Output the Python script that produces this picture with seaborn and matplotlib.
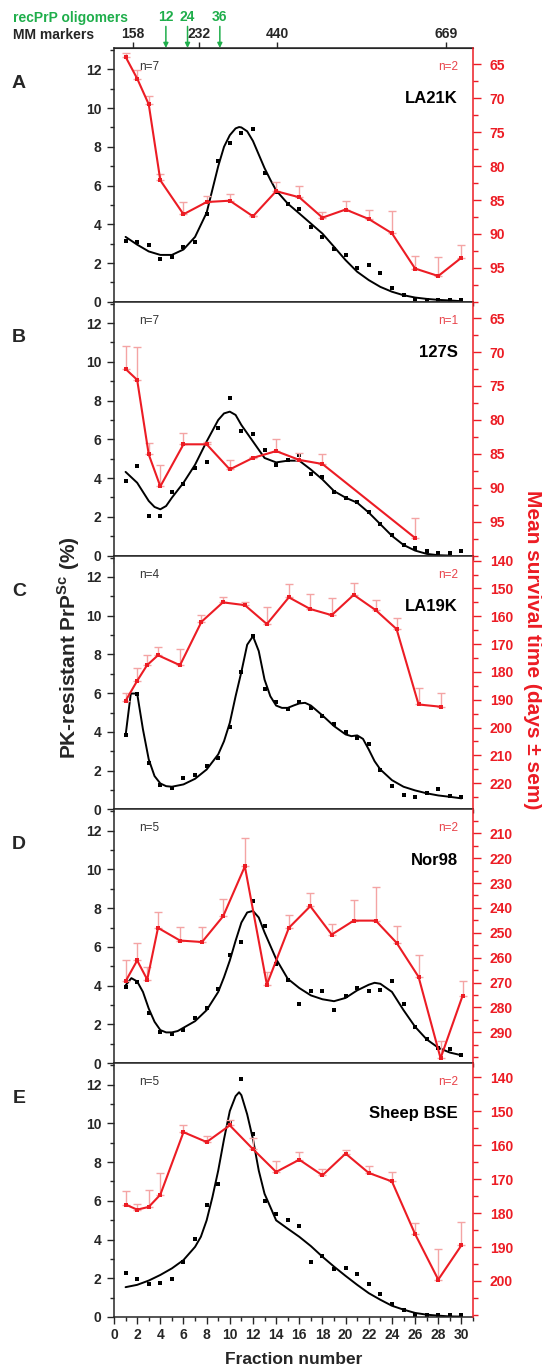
import numpy as np
import matplotlib
matplotlib.use("Agg")
import matplotlib.pyplot as plt
import matplotlib.transforms as mtransforms
from matplotlib.ticker import MultipleLocator
import seaborn as sns

# fractions collected from the gradient
fractions = list(range(1, 31))

# ---- A : LA21K ----
a_dots = [3.13, 3.09, 2.92, 2.23, 2.32, 2.84, 3.09, 4.52, 7.27, 8.18, 8.70, 8.92, 6.65, 5.67, 5.07,
          4.78, 3.87, 3.35, 2.72, 2.44, 1.75, 1.89, 1.50, 0.69, 0.34, 0.17, 0.09, 0.08, 0.09, 0.09]
a_fit_x = [1, 2, 3, 4, 5, 6, 7, 8, 8.5, 9, 9.5, 10, 10.5, 10.8, 11, 11.5, 12, 12.5, 13, 13.5, 14,
           15, 16, 17, 18, 19, 20, 21, 22, 23, 24, 25, 26, 27, 28, 29, 30]
a_fit_y = [3.35, 2.95, 2.6, 2.42, 2.42, 2.7, 3.35, 4.6, 5.8, 7.0, 8.0, 8.6, 8.95, 9.02, 9.0, 8.8, 8.3,
           7.6, 6.9, 6.3, 5.75, 5.07, 4.56, 4.04, 3.52, 2.84, 2.15, 1.55, 1.12, 0.77, 0.52, 0.34,
           0.22, 0.15, 0.10, 0.07, 0.03]
a_red_x = [1, 2, 3, 4, 6, 8, 10, 12, 14, 16, 18, 20, 22, 24, 26, 28, 30]
a_red_y = [63.9, 67.1, 70.9, 82.1, 87.1, 85.3, 85.1, 87.4, 83.7, 84.6, 87.6, 86.4, 87.8, 89.9,
           95.1, 96.2, 93.5]
a_red_err = [0.6, 1.2, 1.2, 1.0, 1.8, 0.9, 1.0, 0.0, 1.3, 1.7, 0.9, 1.2, 1.4, 3.3, 1.8, 2.8, 1.8]

# ---- B : 127S ----
b_dots = [3.84, 4.64, 2.05, 2.05, 3.29, 3.72, 4.52, 4.81, 6.57, 8.14, 6.45, 6.28, 5.43, 4.69, 4.95,
          5.17, 4.22, 4.06, 3.28, 2.99, 2.77, 2.27, 1.62, 1.06, 0.56, 0.39, 0.22, 0.15, 0.14, 0.26]
b_fit_x = [1, 2, 3, 3.5, 4, 4.5, 5, 6, 7, 8, 9, 9.5, 10, 10.5, 11, 12, 13, 14, 15, 16, 17, 18, 19,
           20, 21, 22, 23, 24, 25, 26, 27, 28, 29]
b_fit_y = [4.32, 3.76, 2.82, 2.51, 2.39, 2.56, 2.99, 3.76, 4.69, 5.89, 7.0, 7.34, 7.43, 7.26, 6.74,
           5.89, 5.04, 4.81, 4.9, 4.9, 4.44, 3.93, 3.33, 2.99, 2.73, 2.22, 1.62, 1.02, 0.55, 0.26,
           0.09, 0.02, 0.0]
b_red_x = [1, 2, 3, 4, 6, 8, 10, 12, 14, 16, 18, 26]
b_red_y = [72.5, 74.1, 85.1, 89.8, 83.6, 83.6, 87.3, 85.6, 84.6, 85.9, 86.5, 97.4]
b_red_err = [3.4, 4.9, 1.7, 3.2, 1.6, 0.3, 1.4, 0.2, 1.8, 1.0, 1.5, 3.0]

# ---- C : LA19K ----
c_dots = [3.82, 5.98, 2.41, 1.27, 1.13, 1.60, 1.80, 2.23, 2.66, 4.26, 7.08, 8.97, 6.24, 5.55, 5.16,
          5.52, 5.21, 4.81, 4.42, 4.00, 3.70, 3.35, 2.01, 1.20, 0.72, 0.65, 0.83, 1.03, 0.69, 0.65]
c_fit_x = [1, 1.45, 2, 2.5, 3, 3.5, 4, 4.5, 5, 6, 7, 8, 9, 9.5, 10, 10.5, 11, 11.5, 12, 12.5, 13,
           13.5, 14, 14.5, 15, 15.5, 16, 16.5, 17, 18, 19, 20, 20.5, 21, 21.5, 22, 22.5, 23, 24, 25,
           26, 27, 28, 29, 30]
c_fit_y = [3.82, 5.98, 5.98, 4.13, 2.58, 1.72, 1.34, 1.2, 1.17, 1.29, 1.58, 2.06, 2.84, 3.52, 4.47,
           5.84, 7.1, 8.5, 8.94, 8.17, 6.70, 5.84, 5.36, 5.24, 5.24, 5.36, 5.47, 5.5, 5.36, 4.85,
           4.30, 3.87, 3.78, 3.82, 3.64, 3.09, 2.49, 2.06, 1.51, 1.17, 0.98, 0.83, 0.72, 0.65, 0.57]
c_red_x = [1, 2, 2.85, 3.8, 5.7, 7.55, 9.4, 11.3, 13.2, 15.1, 16.95, 18.8, 20.7, 22.6, 24.4, 26.3,
           28.2]
c_red_y = [190.4, 183.2, 177.6, 174.0, 177.6, 162.0, 155.0, 156.0, 162.8, 153.2, 157.4, 159.6,
           152.3, 157.8, 164.6, 191.7, 192.5]
c_red_err = [2.7, 4.5, 3.8, 3.1, 5.8, 2.4, 2.1, 1.2, 6.3, 4.8, 5.4, 6.0, 4.3, 3.7, 3.9, 6.1, 5.1]

# ---- D : Nor98 ----
d_dots = [3.93, 4.19, 2.6, 1.62, 1.49, 1.71, 2.34, 2.85, 3.85, 5.56, 6.27, 8.38, 7.09, 5.13, 4.27,
          3.04, 3.71, 3.71, 2.77, 3.47, 3.88, 3.71, 3.79, 4.22, 3.08, 1.88, 1.25, 0.80, 0.74, 0.43]
d_fit_x = [1, 1.5, 2, 2.5, 3, 3.5, 4, 4.5, 5, 5.5, 6, 7, 8, 9, 9.5, 10, 10.5, 11, 11.5, 12, 12.5,
           13, 14, 15, 16, 17, 18, 19, 20, 21, 22, 22.5, 23, 24, 25, 26, 27, 28, 29, 30]
d_fit_y = [4.02, 4.39, 4.22, 3.68, 2.82, 2.14, 1.71, 1.59, 1.59, 1.66, 1.83, 2.17, 2.74, 3.68, 4.44,
           5.30, 6.32, 7.26, 7.78, 7.86, 7.52, 6.75, 5.38, 4.36, 3.88, 3.50, 3.30, 3.20, 3.37, 3.76,
           4.05, 4.15, 4.10, 3.68, 2.74, 1.88, 1.23, 0.80, 0.55, 0.41]
d_red_x = [1, 2, 2.87, 3.8, 5.7, 7.6, 9.43, 11.3, 13.2, 15.1, 16.95, 18.8, 20.7, 22.6, 24.4, 26.3,
           28.2, 30.1]
d_red_y = [269.5, 261.1, 268.8, 248.0, 253.1, 253.7, 243.3, 223.3, 270.8, 248.0, 239.3, 250.7,
           245.1, 245.1, 254.0, 267.7, 300.4, 275.3]
d_red_err = [8.4, 7.0, 5.1, 6.5, 5.5, 6.1, 6.9, 11.3, 5.1, 5.3, 5.2, 4.3, 8.3, 13.4, 6.7, 8.6, 7.1,
             6.0]

# ---- E : Sheep BSE ----
e_dots = [2.29, 1.97, 1.69, 1.78, 1.95, 2.85, 4.05, 5.76, 6.87, 10.0, 12.29, 9.47, 5.97, 5.30, 4.99,
          4.70, 2.85, 3.16, 2.46, 2.55, 2.22, 1.71, 1.20, 0.68, 0.34, 0.12, 0.09, 0.09, 0.09, 0.12]
e_fit_x = [1, 2, 3, 4, 5, 6, 7, 7.5, 8, 8.5, 9, 9.5, 10, 10.5, 10.8, 11, 11.5, 12, 12.5, 13, 13.5,
           14, 15, 16, 17, 18, 19, 20, 21, 22, 23, 24, 25, 26, 27, 28, 29, 30]
e_fit_y = [1.54, 1.66, 1.88, 2.17, 2.51, 2.94, 3.62, 4.14, 4.99, 6.19, 7.56, 9.18, 10.63, 11.40,
           11.6, 11.45, 10.46, 9.18, 7.56, 6.36, 5.68, 4.99, 4.56, 4.14, 3.66, 3.11, 2.60, 2.12,
           1.66, 1.23, 0.89, 0.58, 0.38, 0.21, 0.12, 0.07, 0.03, 0.02]
e_red_x = [1, 2, 3, 4, 6, 8, 10, 12, 14, 16, 18, 20, 22, 24, 26, 28, 30]
e_red_y = [177.5, 179.0, 178.2, 174.6, 156.2, 159.1, 154.2, 161.2, 167.9, 164.3, 168.9, 162.5,
           168.2, 170.7, 186.2, 199.6, 189.5]
e_red_err = [3.9, 1.7, 5.1, 6.4, 2.1, 1.8, 1.7, 3.3, 3.3, 2.4, 1.8, 1.0, 1.9, 2.7, 3.3, 9.1, 6.8]

letters = ["A", "B", "C", "D", "E"]
strains = ["LA21K", "127S", "LA19K", "Nor98", "Sheep BSE"]
n_pk = ["n=7", "n=7", "n=4", "n=5", "n=5"]
n_bio = ["n=2", "n=1", "n=2", "n=2", "n=2"]
surv_lims = [(100, 62.6), (100, 62.6), (229.4, 138.2), (302.4, 200.4), (210.6, 135.9)]
surv_ticks = [
    [65, 70, 75, 80, 85, 90, 95],
    [65, 70, 75, 80, 85, 90, 95],
    [140, 150, 160, 170, 180, 190, 200, 210, 220],
    [210, 220, 230, 240, 250, 260, 270, 280, 290],
    [140, 150, 160, 170, 180, 190, 200],
]
surv_minor = [2.5, 2.5, 5, 5, 5]

# molecular mass markers / oligomer sizes on top of panel A
mm_pos = [1.64, 7.33, 14.1, 28.7]
mm_labels = ["158", "232", "440", "669"]
olig_pos = [4.48, 6.35, 9.14]
olig_labels = ["12", "24", "36"]

panels = [
    (a_dots, a_fit_x, a_fit_y, a_red_x, a_red_y, a_red_err),
    (b_dots, b_fit_x, b_fit_y, b_red_x, b_red_y, b_red_err),
    (c_dots, c_fit_x, c_fit_y, c_red_x, c_red_y, c_red_err),
    (d_dots, d_fit_x, d_fit_y, d_red_x, d_red_y, d_red_err),
    (e_dots, e_fit_x, e_fit_y, e_red_x, e_red_y, e_red_err),
]

sns.set_style("ticks")
plt.rcParams["font.family"] = ["Liberation Sans", "DejaVu Sans"]
plt.rcParams["font.weight"] = "bold"
plt.rcParams["mathtext.fontset"] = "custom"
plt.rcParams["mathtext.rm"] = "Liberation Sans"
plt.rcParams["mathtext.bf"] = "Liberation Sans:bold"

RED = "#ec1c24"
PINK = "#f4a4a4"
GREEN = "#1fae4b"

W, H = 542, 1372
fig = plt.figure(figsize=(W / 100, H / 100), dpi=100)

left_px, right_px = 114, 473
top_px, bottom_px = 48, 1317
ph = (bottom_px - top_px) / 5

for i, (dots, fx, fy, rx, ry, rerr) in enumerate(panels):
    y0 = top_px + (i + 1) * ph
    ax = fig.add_axes([left_px / W, 1 - y0 / H, (right_px - left_px) / W, ph / H])

    sns.lineplot(x=fx, y=fy, ax=ax, color="black", linewidth=1.4, estimator=None, sort=False)
    sns.scatterplot(x=fractions, y=dots, ax=ax, color="black", marker="s", s=6, linewidth=0)

    ax.set_xlim(0, 31)
    ax.set_ylim(0, 13.1)
    ax.xaxis.set_major_locator(MultipleLocator(2))
    ax.xaxis.set_minor_locator(MultipleLocator(1))
    ax.yaxis.set_major_locator(MultipleLocator(2))
    ax.yaxis.set_minor_locator(MultipleLocator(1))
    ax.tick_params(which="major", direction="out", length=5, width=1, labelsize=10, pad=4)
    ax.tick_params(which="minor", direction="out", length=3, width=1)
    ax.tick_params(axis="x", labelbottom=(i == 4), pad=3)
    ax.set_xlabel("")
    ax.set_ylabel("")
    ax.spines["right"].set_visible(False)
    for s in ["left", "bottom", "top"]:
        ax.spines[s].set_linewidth(1.1)

    ax2 = ax.twinx()
    zeros = [0] * len(rerr)
    ax2.errorbar(rx, ry, yerr=[rerr, zeros], fmt="none", ecolor=PINK, elinewidth=1.0,
                 capsize=3, capthick=1.0, zorder=1)
    sns.lineplot(x=rx, y=ry, ax=ax2, color=RED, linewidth=1.5, marker="s", markersize=3.2,
                 markeredgewidth=0, estimator=None, sort=False, zorder=2)
    ax2.set_yticks(surv_ticks[i])
    ax2.yaxis.set_minor_locator(MultipleLocator(surv_minor[i]))
    ax2.set_ylim(*surv_lims[i])
    ax2.tick_params(which="major", direction="out", length=6, width=1, colors=RED,
                    labelsize=10, pad=6)
    ax2.tick_params(which="minor", direction="out", length=3.5, width=1, colors=RED)
    ax2.spines["right"].set_color(RED)
    ax2.spines["right"].set_linewidth(1.1)
    ax2.spines["left"].set_visible(False)
    ax2.spines["top"].set_visible(False)
    ax2.spines["bottom"].set_visible(False)
    ax2.set_ylabel("")

    ax.text(0.07, 0.925, n_pk[i], transform=ax.transAxes, fontsize=8.5, fontweight="normal",
            color="#333333", ha="left", va="center")
    ax.text(0.958, 0.925, n_bio[i], transform=ax.transAxes, fontsize=8.5, fontweight="normal",
            color="#e8434a", ha="right", va="center")
    ax.text(0.958, 0.8, strains[i], transform=ax.transAxes, fontsize=12, fontweight="bold",
            color="black", ha="right", va="center", zorder=5)
    ax.text(-0.265, 0.86, letters[i], transform=ax.transAxes, fontsize=14, fontweight="bold",
            ha="center", va="center")

    if i == 4:
        ax.set_xticks(range(0, 31, 2))

    if i == 0:
        sec = ax.secondary_xaxis("top")
        sec.set_xticks(mm_pos, labels=mm_labels)
        sec.tick_params(direction="out", length=4, width=1, labelsize=10, pad=1)
        trans = mtransforms.blended_transform_factory(ax.transData, ax.transAxes)
        for p, lbl in zip(olig_pos, olig_labels):
            ax.annotate("", xy=(p, 1.0), xycoords=trans, xytext=(p, 1.085), textcoords=trans,
                        arrowprops=dict(arrowstyle="-|>", color=GREEN, lw=1.1, mutation_scale=7,
                                        shrinkA=0, shrinkB=0),
                        annotation_clip=False)
            ax.text(p, 1.095, lbl, transform=trans, color=GREEN, fontsize=10, ha="center",
                    va="bottom")

fig.text(13 / W, 1 - 35 / H, "MM markers", fontsize=10, ha="left", va="center")
fig.text(13 / W, 1 - 18 / H, "recPrP oligomers", fontsize=10, ha="left", va="center", color=GREEN)
fig.text(0.127, 1 - 648 / H, "PK-resistant PrP$^{\\mathbf{Sc}}$ (%)", rotation=90, fontsize=15,
         ha="center", va="center")
fig.text(0.983, 1 - 650 / H, "Mean survival time (days \u00b1 sem)", rotation=270, fontsize=15,
         ha="center", va="center", color=RED)
fig.text((left_px + right_px) / 2 / W, 1 - 1360 / H, "Fraction number", fontsize=12.5,
         ha="center", va="center")

fig.savefig("out.png", dpi=100)
plt.close(fig)
